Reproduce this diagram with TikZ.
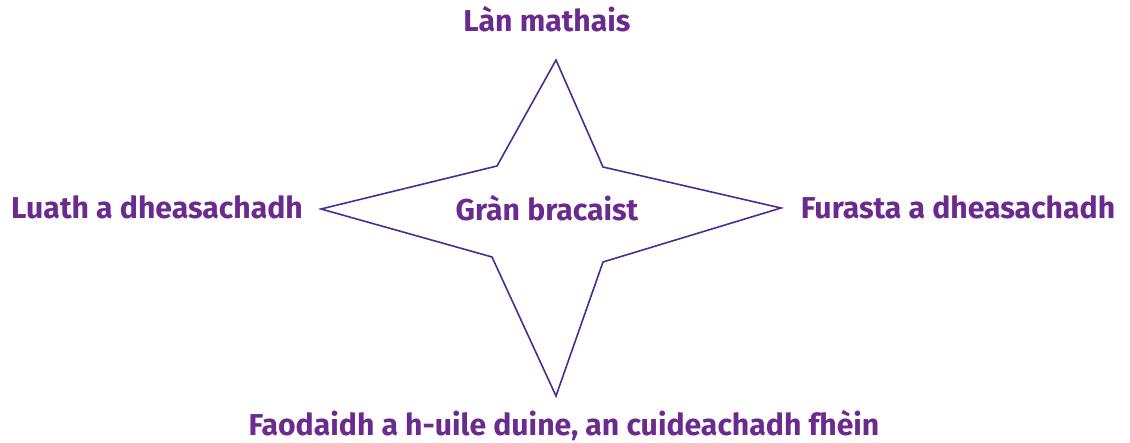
\documentclass[tikz,border=0pt]{standalone}
\usepackage{fontspec}
\setmainfont{Fira Sans}
\definecolor{txt}{HTML}{6B2A8E}
\definecolor{ln}{HTML}{4B2C91}
\begin{document}
\begin{tikzpicture}[x=1bp,y=-1bp,
  lbl/.style={text=txt,font=\fontsize{30.3}{36}\selectfont\bfseries,inner sep=0pt,anchor=base,text depth=0pt}]
\useasboundingbox (0,0) rectangle (1130,443);
\coordinate (t) at (556,60);
\coordinate (tr) at (603,167);
\coordinate (r) at (781,208);
\coordinate (br) at (603,262);
\coordinate (b) at (556,396);
\coordinate (bl) at (492,257);
\coordinate (l) at (321,209);
\coordinate (tl) at (497,166);
\draw[ln,line width=1.6bp,line join=miter] (t) -- (tr) -- (r) -- (br) -- (b) -- (bl) -- (l) -- (tl) -- cycle;
\node[lbl] (top) at (547,32) {Làn mathais};
\node[lbl] (left) at (157,219) {Luath a dheasachadh};
\node[lbl] (mid) at (547,221) {Gràn bracaist};
\node[lbl] (right) at (958,219) {Furasta a dheasachadh};
\node[lbl] (bot) at (564,436) {Faodaidh a h-uile duine, an cuideachadh fhèin};
\end{tikzpicture}
\end{document}
